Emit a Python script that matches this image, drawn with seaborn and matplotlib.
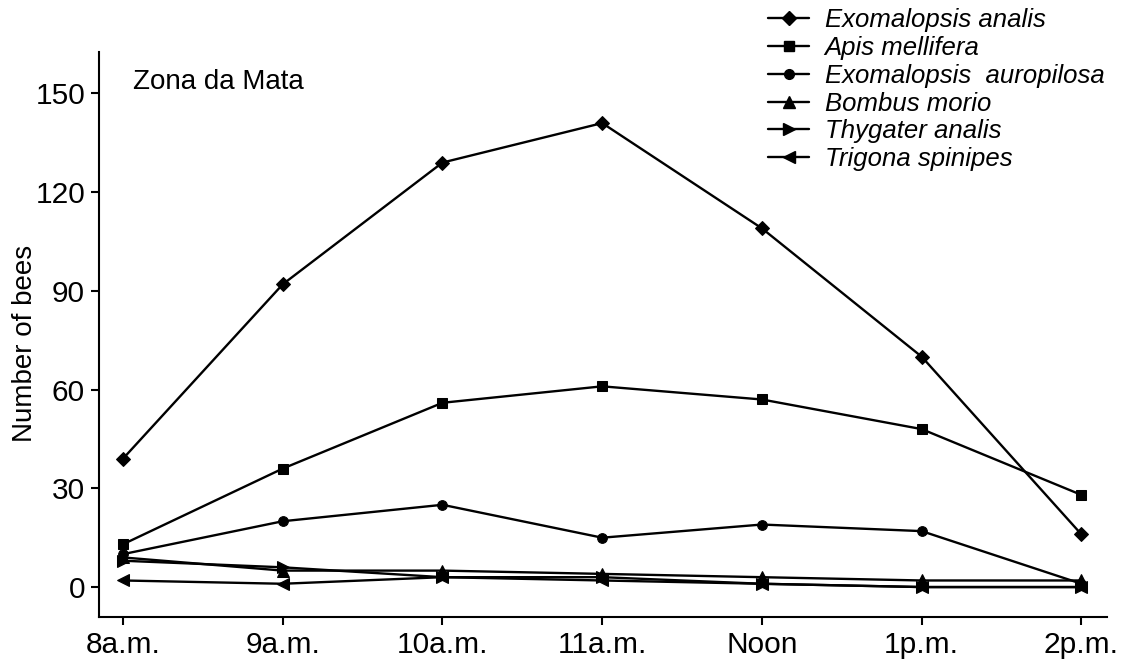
import matplotlib
matplotlib.use("Agg")
import matplotlib.pyplot as plt
import numpy as np
import pandas as pd
import seaborn as sns
from matplotlib.legend_handler import HandlerLine2D
from matplotlib.lines import Line2D

hours = ["8a.m.", "9a.m.", "10a.m.", "11a.m.", "Noon", "1p.m.", "2p.m."]
species = [
    "Exomalopsis analis",
    "Apis mellifera",
    "Exomalopsis  auropilosa",
    "Bombus morio",
    "Thygater analis",
    "Trigona spinipes",
]
exomalopsis_analis = [39, 92, 129, 141, 109, 70, 16]
apis_mellifera = [13, 36, 56, 61, 57, 48, 28]
exomalopsis_auropilosa = [10, 20, 25, 15, 19, 17, 1]
bombus_morio = [9, 5, 5, 4, 3, 2, 2]
thygater_analis = [8, 6, 3, 3, 1, 0, 0]
trigona_spinipes = [2, 1, 3, 2, 1, 0, 0]
yticks = [0, 30, 60, 90, 120, 150]

series = [exomalopsis_analis, apis_mellifera, exomalopsis_auropilosa,
          bombus_morio, thygater_analis, trigona_spinipes]
marker_styles = ["D", "s", "o", "^", ">", "<"]
marker_sizes = [7, 7, 7, 8, 8, 8]

df = pd.DataFrame(
    [(i, name, v) for name, vals in zip(species, series) for i, v in enumerate(vals)],
    columns=["hour", "species", "bees"],
)


class MarkerLeftHandler(HandlerLine2D):
    # put the legend marker at the left end of the line, as in the original
    def get_xdata(self, legend, xdescent, ydescent, width, height, fontsize):
        xdata = np.array([-xdescent, -xdescent + width])
        return xdata, xdata[:1]


sns.set_style("ticks")
plt.rcParams["font.family"] = ["Liberation Sans", "DejaVu Sans"]
for key in ["text.color", "axes.labelcolor", "xtick.color", "ytick.color"]:
    plt.rcParams[key] = "black"

fig = plt.figure(figsize=(11.33, 6.61), dpi=100)
ax = fig.add_axes([99 / 1133, 1 - 617 / 661, (1107 - 99) / 1133, (617 - 52) / 661])

sns.lineplot(
    data=df, x="hour", y="bees", style="species",
    markers=dict(zip(species, marker_styles)), dashes=False,
    color="black", linewidth=1.7, markersize=7, markeredgecolor="black",
    legend=False, ax=ax,
)
for line, ms in zip(ax.get_lines(), marker_sizes):
    line.set_markersize(ms)

ax.set_xlim(-0.15, 6.16)
ax.set_ylim(-9.1, 162.6)
ax.set_xticks(range(len(hours)))
ax.set_xticklabels(hours)
ax.set_yticks(yticks)
ax.tick_params(axis="both", labelsize=21.5, length=6, width=1.5, color="black", pad=4)
ax.set_xlabel("")
ax.set_ylabel("Number of bees", fontsize=20)
ax.yaxis.set_label_coords(-0.0605, 0.485)
for side in ["top", "right"]:
    ax.spines[side].set_visible(False)
for side in ["left", "bottom"]:
    ax.spines[side].set_linewidth(1.5)
    ax.spines[side].set_color("black")

ax.text(0.034, 0.947, "Zona da Mata", transform=ax.transAxes,
        fontsize=20, va="center", ha="left")

handles = [
    Line2D([], [], color="black", linewidth=1.7, marker=m, markersize=s)
    for m, s in zip(marker_styles, marker_sizes)
]
fig.legend(
    handles, species, loc="upper left", bbox_to_anchor=(768 / 1133, 1 - 8 / 661),
    frameon=False, borderpad=0, borderaxespad=0, handlelength=1.6,
    handletextpad=0.6, labelspacing=0.15,
    prop={"style": "italic", "size": 18.5},
    handler_map={Line2D: MarkerLeftHandler(numpoints=1)},
)

fig.savefig("out.png", dpi=100)
